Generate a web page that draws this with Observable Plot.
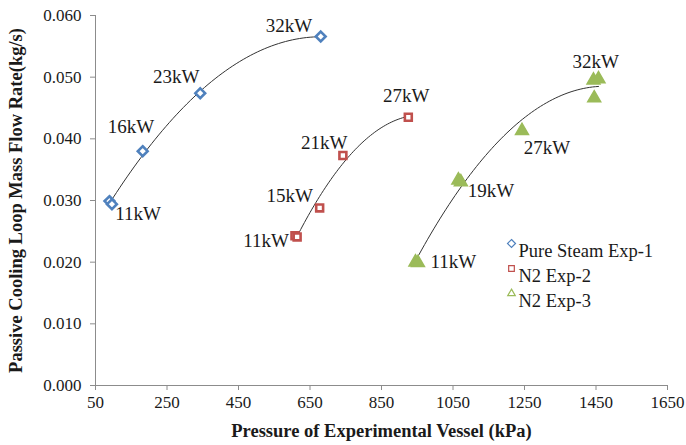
<!DOCTYPE html>
<html><head><meta charset="utf-8">
<script src="https://cdn.jsdelivr.net/npm/d3@7"></script>
<script src="https://cdn.jsdelivr.net/npm/@observablehq/plot@0.6"></script>
<style>
body{margin:0;background:#fff;}
#chart{width:686px;height:445px;}
#chart svg, #chart svg text{font-family:"Liberation Serif","Times New Roman",serif !important;}
</style>
</head><body><div id="chart"></div>
<script>
// ---- data ----
const seriesNames = ["Pure Steam Exp-1", "N2 Exp-2", "N2 Exp-3"];
const seriesColors = ["#4f81bd", "#c0504d", "#9bbb59"];

const steamPressure = [89, 96, 182, 343, 680];
const steamFlow     = [0.0299, 0.0294, 0.0380, 0.0474, 0.0566];

const n2aPressure = [608, 614, 677, 742, 925];
const n2aFlow     = [0.0243, 0.0241, 0.0288, 0.0373, 0.0435];

const n2bPressure = [945, 952, 1065, 1072, 1243, 1443, 1457, 1445];
const n2bFlow     = [0.0200, 0.0199, 0.0333, 0.0330, 0.0413, 0.0495, 0.0497, 0.0466];

// point labels: text and where the label sits (data units)
const labelText  = ["11kW","16kW","23kW","32kW", "11kW","15kW","21kW","27kW", "11kW","19kW","27kW","32kW"];
const labelP     = [169, 149, 276, 591, 527, 593, 690, 919, 1051, 1156, 1313, 1449];
const labelF     = [0.0279, 0.0420, 0.0500, 0.0583, 0.0234, 0.0307, 0.0394, 0.0469, 0.0201, 0.0315, 0.0386, 0.0525];

const xTicks = [50, 250, 450, 650, 850, 1050, 1250, 1450, 1650];
const yTicks = [0, 0.01, 0.02, 0.03, 0.04, 0.05, 0.06];

// ---- build tables ----
const raw = [[steamPressure, steamFlow], [n2aPressure, n2aFlow], [n2bPressure, n2bFlow]];
const points = raw.flatMap(([ps, fs], s) => ps.map((p, i) => ({series: seriesNames[s], p, f: fs[i]})));
const labels = labelText.map((t, i) => ({t, p: labelP[i], f: labelF[i]}));

// polynomial (order 2) trendline, least squares, like the spreadsheet trendline
function quadFit(xs, ys) {
  const m = d3.mean(xs), sc = 1000;
  const S = [0,0,0,0,0], T = [0,0,0];
  xs.forEach((x0, i) => {
    const x = (x0 - m) / sc;
    for (let k = 0; k < 5; k++) S[k] += x ** k;
    for (let k = 0; k < 3; k++) T[k] += ys[i] * x ** k;
  });
  const A = [[S[0],S[1],S[2],T[0]],[S[1],S[2],S[3],T[1]],[S[2],S[3],S[4],T[2]]];
  for (let c = 0; c < 3; c++) {
    for (let r = c + 1; r < 3; r++) {
      const f = A[r][c] / A[c][c];
      for (let k = c; k < 4; k++) A[r][k] -= f * A[c][k];
    }
  }
  const sol = [0,0,0];
  for (let r = 2; r >= 0; r--) {
    let v = A[r][3];
    for (let k = r + 1; k < 3; k++) v -= A[r][k] * sol[k];
    sol[r] = v / A[r][r];
  }
  return x0 => { const x = (x0 - m) / sc; return sol[0] + sol[1] * x + sol[2] * x * x; };
}
const trend = raw.flatMap(([ps, fs], s) => {
  const fn = quadFit(ps, fs);
  const [lo, hi] = d3.extent(ps);
  const n = 60;
  return d3.range(n + 1).map(i => { const p = lo + (hi - lo) * i / n; return {series: seriesNames[s], p, f: fn(p)}; });
});

const symbolOf = {"Pure Steam Exp-1": "diamond2", "N2 Exp-2": "square2", "N2 Exp-3": "triangle2"};
const colorOf = Object.fromEntries(seriesNames.map((n, i) => [n, seriesColors[i]]));

const serif = "Liberation Serif, Times New Roman, serif";

const legendMarks = seriesNames.flatMap((name, i) => [
  Plot.dot([name], {frameAnchor: "top-left", dx: 416, dy: 228 + i * 25,
    symbol: symbolOf[name], r: 3.6, stroke: colorOf[name], fill: "white", strokeWidth: 1.2}),
  Plot.text([name], {frameAnchor: "top-left", dx: 423, dy: 228 + i * 25, text: d => d,
    textAnchor: "start", fontSize: 18.5, fill: "#1a1a1a"})
]);

const chart = Plot.plot({
  width: 686, height: 445,
  marginLeft: 95, marginRight: 19, marginTop: 15, marginBottom: 60,
  style: {fontFamily: serif, fontSize: "17px", color: "#1a1a1a", background: "white"},
  x: {domain: [50, 1650]},
  y: {domain: [0, 0.06]},
  marks: [
    Plot.axisX({ticks: xTicks, tickFormat: d => String(d), tickSize: 5, tickPadding: 5, stroke: "#8c8c8c", fontSize: 17,
      label: "Pressure of Experimental Vessel (kPa)", labelAnchor: "center", labelArrow: "none", labelOffset: 51}),
    Plot.axisY({ticks: yTicks, tickFormat: d3.format(".3f"), tickSize: 5, tickPadding: 9, stroke: "#8c8c8c", fontSize: 17,
      label: "Passive Cooling Loop Mass Flow Rate(kg/s)", labelAnchor: "center", labelArrow: "none", labelOffset: 87}),
    Plot.ruleY([0], {stroke: "#8c8c8c"}),
    Plot.ruleX([50], {stroke: "#8c8c8c"}),
    Plot.line(trend, {x: "p", y: "f", z: "series", stroke: "#333", strokeWidth: 1}),
    Plot.dot(points.filter(d => d.series !== "N2 Exp-3"), {x: "p", y: "f",
      symbol: d => symbolOf[d.series], stroke: d => colorOf[d.series], fill: "white", strokeWidth: 2.6, r: 4.4}),
    Plot.dot(points.filter(d => d.series === "N2 Exp-3"), {x: "p", y: "f",
      symbol: "triangle", fill: d => colorOf[d.series], stroke: d => colorOf[d.series], strokeWidth: 1.5, r: 4.8}),
    Plot.text(labels, {x: "p", y: "f", text: "t", fontSize: 19, fill: "#1a1a1a"}),
    ...legendMarks
  ]
});
chart.querySelectorAll("[aria-label='x-axis label'] text, [aria-label='y-axis label'] text").forEach(t => {
  t.setAttribute("font-weight", "bold");
  t.setAttribute("font-size", "18.5");
});
document.getElementById("chart").append(chart);
</script>
</body></html>
